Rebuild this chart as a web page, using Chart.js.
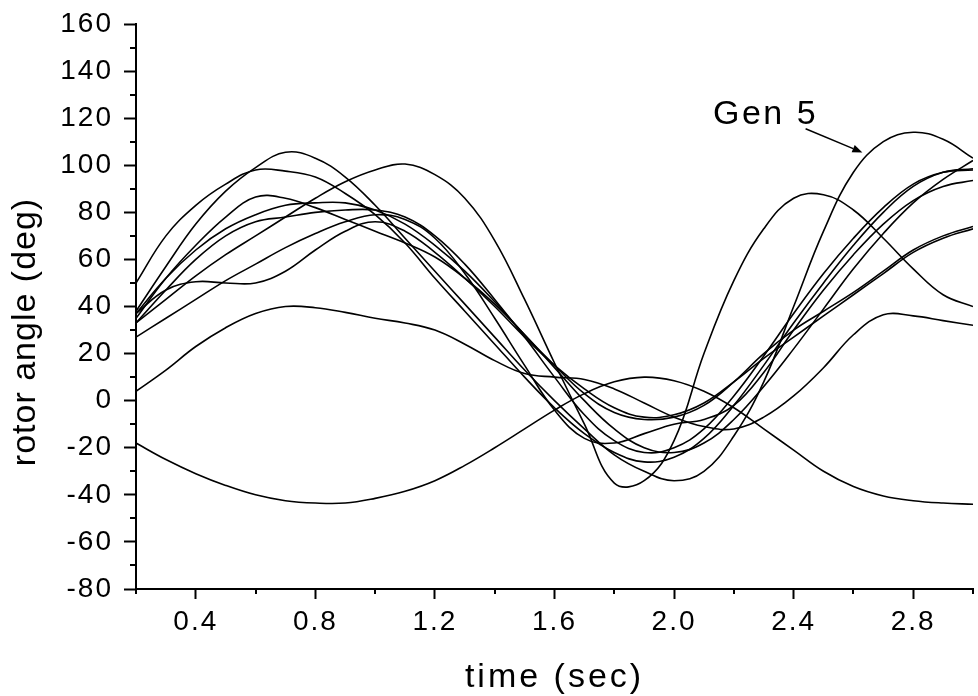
<!DOCTYPE html>
<html>
<head>
<meta charset="utf-8">
<script src="https://cdn.jsdelivr.net/npm/chart.js@4.4.0/dist/chart.umd.min.js"></script>
<style>
  html, body { margin: 0; padding: 0; background: #fff; }
  canvas { display: block; }
</style>
</head>
<body>
<canvas id="rotorChart" width="978" height="696"></canvas>
<script>
// time samples (sec)
const times = [0.2, 0.3, 0.4, 0.5, 0.6, 0.7, 0.8, 0.9, 1.0, 1.1, 1.2, 1.3, 1.4, 1.5, 1.6,
               1.7, 1.8, 1.9, 2.0, 2.1, 2.2, 2.3, 2.4, 2.5, 2.6, 2.7, 2.8, 2.9, 3.0];

// rotor angles (deg)
const gen1 = [-18, -25, -31, -36, -40, -42.5, -43.5, -43.5, -41.5, -38.5, -34, -27.5, -20, -12, -4,
              3, 8, 10, 8.5, 4, -3, -12, -21, -30, -36.5, -40.5, -42.5, -43.5, -44];
const gen2 = [4, 13, 23, 31, 37, 40, 39.5, 37.5, 35, 33, 30, 24, 17, 11.5, 10,
              9, 5, -1, -7, -11, -12, -7, 2, 14, 28, 36.5, 36, 34, 32];
const gen3 = [33, 43, 53, 62, 70, 78, 86, 93, 98, 100.5, 96, 86, 68, 43, 16,
              -10, -35, -34, -17, 20, 51, 73, 86, 87.5, 81, 69, 56, 45, 40];
const gen4 = [50, 70, 83, 92, 98, 97.5, 95, 88, 79, 67, 52, 38, 24, 10, -3,
              -14, -22, -26, -24, -16, -2, 15, 33, 50, 66, 80, 91, 97, 98.5];
const gen5 = [38, 57, 75, 89, 99, 105.5, 103, 95, 83, 69, 55, 41, 27, 13, 0,
              -12, -23, -30, -34, -30, -15, 8, 40, 72, 97, 110, 114, 111, 103];
const gen6 = [35, 52, 66, 78, 86.5, 86, 82, 77, 72, 67, 61, 52, 41, 28, 14,
              0, -12, -20, -22, -18, -8, 6, 22, 39, 56, 71, 84, 94, 102];
const gen7 = [37, 52, 64, 73, 79, 83, 84, 84, 81, 75, 66, 55, 42, 28, 15,
              3, -5, -8, -7, -2, 8, 20, 30, 38, 46, 55, 64, 70, 74];
const gen8 = [37, 47, 50.5, 50, 50, 55, 64, 72, 76, 72, 63, 52, 40, 27, 15,
              5, -3, -7, -6, -1, 8, 18, 27, 36, 45, 54, 63, 69, 73];
const gen9 = [27, 35, 43, 51, 58, 65, 71, 76, 79, 77, 69, 54, 35, 15, -4,
              -16, -18, -14, -10, -8, -2, 12, 30, 47, 62, 75, 85, 91, 93.5];
const gen10 = [33, 47, 60, 70, 76, 78, 80, 81, 81, 78, 70, 58, 43, 27, 10,
               -6, -17, -22, -20, -12, 2, 19, 37, 54, 69, 82, 92, 97, 98];

const allGens = [gen1, gen2, gen3, gen4, gen5, gen6, gen7, gen8, gen9, gen10];

// axis ticks
const xMajorTicks = [0.4, 0.8, 1.2, 1.6, 2.0, 2.4, 2.8];
const xMinorTicks = [0.2, 0.6, 1.0, 1.4, 1.8, 2.2, 2.6, 3.0];
const yMajorTicks = [-80, -60, -40, -20, 0, 20, 40, 60, 80, 100, 120, 140, 160];
const yMinorTicks = [-70, -50, -30, -10, 10, 30, 50, 70, 90, 110, 130, 150];

const xTitle = 'time (sec)';
const yTitle = 'rotor angle (deg)';

// "Gen 5" callout, in data units
const gen5Label = { text: 'Gen 5', x: 2.13, y: 117.7 };
const gen5Arrow = { x0: 2.44, y0: 115.5, x1: 2.63, y1: 105.4 };

const FONT = "'Liberation Sans', Arial, sans-serif";

const textSpacing = {
    id: 'textSpacing',
    beforeDraw(chart) {
        chart.ctx.letterSpacing = '2px';
    }
};

const extras = {
    id: 'extras',
    afterDraw(chart) {
        const { ctx, chartArea, scales: { x, y } } = chart;
        ctx.save();
        ctx.strokeStyle = '#000';
        ctx.fillStyle = '#000';
        ctx.lineWidth = 2;
        ctx.beginPath();
        xMinorTicks.forEach(v => {
            const px = Math.round(x.getPixelForValue(v));
            ctx.moveTo(px, x.top);
            ctx.lineTo(px, x.top + 5);
        });
        yMinorTicks.forEach(v => {
            const py = Math.round(y.getPixelForValue(v));
            ctx.moveTo(y.right, py);
            ctx.lineTo(y.right - 6, py);
        });
        ctx.stroke();

        // axis titles
        ctx.font = '34px ' + FONT;
        ctx.textBaseline = 'alphabetic';
        ctx.textAlign = 'center';
        ctx.letterSpacing = '3px';
        ctx.fillText(xTitle, (chartArea.left + chartArea.right) / 2, 687);

        ctx.save();
        ctx.letterSpacing = '1px';
        ctx.translate(35, chartArea.top + 308);
        ctx.rotate(-Math.PI / 2);
        ctx.fillText(yTitle, 0, 0);
        ctx.restore();

        // callout text
        ctx.letterSpacing = '2.5px';
        ctx.textAlign = 'left';
        ctx.fillText(gen5Label.text, x.getPixelForValue(gen5Label.x), y.getPixelForValue(gen5Label.y));

        // arrow
        const ax0 = x.getPixelForValue(gen5Arrow.x0), ay0 = y.getPixelForValue(gen5Arrow.y0);
        const ax1 = x.getPixelForValue(gen5Arrow.x1), ay1 = y.getPixelForValue(gen5Arrow.y1);
        const ang = Math.atan2(ay1 - ay0, ax1 - ax0);
        const headLen = 10, headW = 4;
        ctx.lineWidth = 1.5;
        ctx.beginPath();
        ctx.moveTo(ax0, ay0);
        ctx.lineTo(ax1 - headLen * Math.cos(ang), ay1 - headLen * Math.sin(ang));
        ctx.stroke();
        ctx.beginPath();
        ctx.moveTo(ax1, ay1);
        ctx.lineTo(ax1 - headLen * Math.cos(ang) + headW * Math.sin(ang),
                   ay1 - headLen * Math.sin(ang) - headW * Math.cos(ang));
        ctx.lineTo(ax1 - headLen * Math.cos(ang) - headW * Math.sin(ang),
                   ay1 - headLen * Math.sin(ang) + headW * Math.cos(ang));
        ctx.closePath();
        ctx.fill();
        ctx.restore();
    }
};

const ctx = document.getElementById('rotorChart').getContext('2d');

new Chart(ctx, {
    type: 'line',
    data: {
        datasets: allGens.map((g, i) => ({
            label: 'Gen ' + (i + 1),
            data: times.map((t, k) => ({ x: t, y: g[k] })),
            borderColor: '#000',
            borderWidth: 1.6,
            pointRadius: 0,
            fill: false,
            tension: 0.4
        }))
    },
    options: {
        responsive: false,
        animation: false,
        layout: { padding: { top: 24, right: 5, left: 0, bottom: 0 } },
        plugins: {
            legend: { display: false },
            tooltip: { enabled: false }
        },
        scales: {
            x: {
                type: 'linear',
                min: 0.2,
                max: 3.0,
                afterBuildTicks: scale => { scale.ticks = xMajorTicks.map(v => ({ value: v })); },
                afterFit: scale => { scale.height = 107; scale.paddingLeft = 0; scale.paddingRight = 0; },
                border: { display: true, color: '#000', width: 2 },
                grid: { drawOnChartArea: false, drawTicks: true, tickLength: 10, tickColor: '#000', tickWidth: 2 },
                ticks: {
                    color: '#000',
                    font: { family: FONT, size: 28 },
                    padding: 6,
                    maxRotation: 0,
                    autoSkip: false,
                    callback: v => v.toFixed(1)
                }
            },
            y: {
                min: -80,
                max: 160,
                afterBuildTicks: scale => { scale.ticks = yMajorTicks.map(v => ({ value: v })); },
                afterFit: scale => { scale.width = 136; scale.paddingTop = 0; scale.paddingBottom = 0; },
                border: { display: true, color: '#000', width: 2 },
                grid: { drawOnChartArea: false, drawTicks: true, tickLength: 12, tickColor: '#000', tickWidth: 2 },
                ticks: {
                    color: '#000',
                    font: { family: FONT, size: 28 },
                    padding: 11,
                    autoSkip: false,
                    callback: v => String(v)
                }
            }
        }
    },
    plugins: [textSpacing, extras]
});
</script>
</body>
</html>
